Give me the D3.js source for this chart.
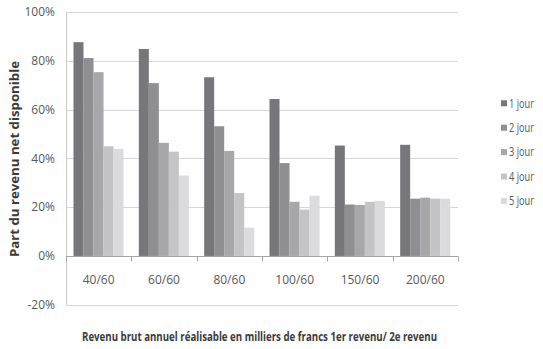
<!DOCTYPE html>
<html><head><meta charset="utf-8">
<script src="https://cdn.jsdelivr.net/npm/d3@7"></script>
<style>
html,body{margin:0;padding:0;background:#fefefe;}
svg{display:block;font-family:"Liberation Sans Narrow","Open Sans",sans-serif;}
</style></head>
<body><svg id="c" width="543" height="349"></svg>
<script>
const categories = ["40/60","60/60","80/60","100/60","150/60","200/60"];
const seriesNames = ["1 jour","2 jour","3 jour","4 jour","5 jour"];
const jour1 = [87.7, 84.9, 73.3, 64.4, 45.3, 45.6];
const jour2 = [81.2, 70.9, 53.2, 38.1, 21.1, 23.5];
const jour3 = [75.4, 46.4, 43.1, 22.2, 20.9, 23.9];
const jour4 = [45.0, 42.8, 25.8, 19.0, 22.2, 23.5];
const jour5 = [43.9, 33.0, 11.6, 24.7, 22.6, 23.5];
const yTicks = [-20, 0, 20, 40, 60, 80, 100];
const colors = ["#77777b","#8f8f93","#a7a7aa","#c4c4c6","#dbdbdd"];

const series = [jour1, jour2, jour3, jour4, jour5];
const svg = d3.select("#c");
const L = 66, R = 458, T = 12.2, B = 304.7;
const y = d3.scaleLinear().domain([-20, 100]).range([B, T]);
const x0 = d3.scaleBand().domain(categories).range([L, R]).paddingInner(0).paddingOuter(0);
const x1 = d3.scaleBand().domain(d3.range(5)).range([7.5, x0.bandwidth() - 7.8]);

// gridlines
svg.append("g").selectAll("line").data(yTicks).join("line")
  .attr("x1", L).attr("x2", R)
  .attr("y1", d => Math.round(y(d)) + 0.5).attr("y2", d => Math.round(y(d)) + 0.5)
  .attr("stroke", "#d6d6d6").attr("stroke-width", 1);

// left axis line
svg.append("line").attr("x1", L + 0.5).attr("x2", L + 0.5).attr("y1", T).attr("y2", B)
  .attr("stroke", "#c8c8c8");

// y labels
svg.append("g").selectAll("text").data(yTicks).join("text")
  .attr("x", 55).attr("y", d => y(d)).attr("dy", "0.35em")
  .attr("text-anchor", "end").attr("font-size", 12).attr("fill", "#595959")
  .text(d => d + "%");

// bars
const g = svg.append("g").selectAll("g").data(categories).join("g")
  .attr("transform", c => `translate(${x0(c)},0)`);
g.selectAll("rect").data((c, i) => series.map((s, k) => ({k, v: s[i]}))).join("rect")
  .attr("x", d => x1(d.k)).attr("width", x1.bandwidth())
  .attr("y", d => y(Math.max(0, d.v))).attr("height", d => Math.abs(y(d.v) - y(0)))
  .attr("fill", d => colors[d.k]);

// zero axis
const y0 = Math.round(y(0)) + 0.5;
svg.append("line").attr("x1", L).attr("x2", R).attr("y1", y0).attr("y2", y0)
  .attr("stroke", "#a6a6a6");
svg.append("g").selectAll("line").data(d3.range(categories.length + 1)).join("line")
  .attr("x1", i => Math.round(L + i * x0.bandwidth()) + 0.5)
  .attr("x2", i => Math.round(L + i * x0.bandwidth()) + 0.5)
  .attr("y1", y0).attr("y2", y0 + 5).attr("stroke", "#a6a6a6");

// category labels
svg.append("g").selectAll("text").data(categories).join("text")
  .attr("x", c => x0(c) + x0.bandwidth() / 2).attr("y", 280).attr("dy", "0.35em")
  .attr("text-anchor", "middle").attr("font-size", 12).attr("fill", "#595959")
  .text(c => c);

// axis titles
svg.append("text").attr("x", 259.5).attr("y", 341).attr("text-anchor", "middle")
  .attr("font-size", 12).attr("font-weight", "bold").attr("fill", "#3a3a3a")
  .attr("textLength", 355).attr("lengthAdjust", "spacingAndGlyphs")
  .text("Revenu brut annuel réalisable en milliers de francs 1er revenu/ 2e revenu");
svg.append("text").attr("transform", "translate(19,159) rotate(-90)")
  .attr("text-anchor", "middle").attr("font-size", 12).attr("font-weight", "bold").attr("fill", "#3a3a3a")
  .attr("textLength", 196).attr("lengthAdjust", "spacingAndGlyphs")
  .text("Part du revenu net disponible");

// legend
const leg = svg.append("g").selectAll("g").data(seriesNames).join("g")
  .attr("transform", (d, i) => `translate(501,${103.3 + i * 24.4})`);
leg.append("rect").attr("x", 0).attr("y", -3).attr("width", 6).attr("height", 6)
  .attr("fill", (d, i) => colors[i]);
leg.append("text").attr("x", 8).attr("y", 0).attr("dy", "0.35em")
  .attr("font-size", 12).attr("fill", "#595959")
  .attr("textLength", 25).attr("lengthAdjust", "spacingAndGlyphs").text(d => d);
</script></body></html>
